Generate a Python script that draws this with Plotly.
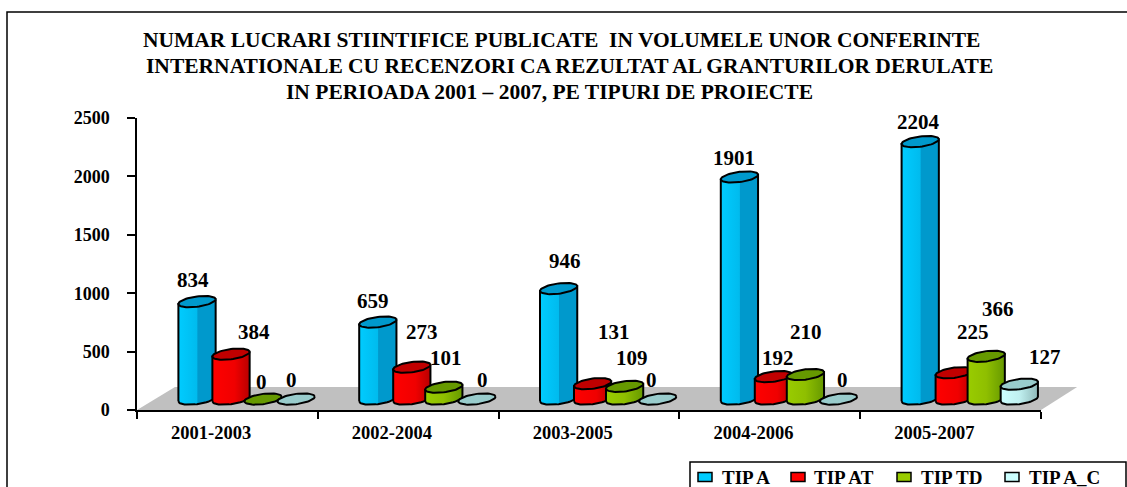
import numpy as np
import plotly.graph_objects as go

CATEGORIES = ["2001-2003", "2002-2004", "2003-2005", "2004-2006", "2005-2007"]
TIP_A = [834, 659, 946, 1901, 2204]
TIP_AT = [384, 273, 131, 192, 225]
TIP_TD = [0, 101, 109, 210, 366]
TIP_AC = [0, 0, 0, 0, 127]
SERIES_NAMES = ["TIP A", "TIP AT", "TIP TD", "TIP A_C"]
SERIES = [TIP_A, TIP_AT, TIP_TD, TIP_AC]
Y_TICKS = [0, 500, 1000, 1500, 2000, 2500]

TITLE_LINES = ["NUMAR LUCRARI STIINTIFICE PUBLICATE  IN VOLUMELE UNOR CONFERINTE",
               "INTERNATIONALE CU RECENZORI CA REZULTAT AL GRANTURILOR DERULATE",
               "IN PERIOADA 2001 \u2013 2007, PE TIPURI DE PROIECTE"]

# styling / 3D projection
W, H = 1127, 487
L, R, T, B = 137, 1041, 118, 410
FONT = "Liberation Serif"
SLOTS = [0.332, 0.52, 0.697, 0.88]
RX, RY, TILT = 0.103, 44, 0.45
FLOOR_BASE = 94
FLOOR_DEPTH = 197
SIDE = [
    [[0, "#00ccff"], [0.5, "#00bbee"], [0.52, "#0099cc"], [1, "#0099cc"]],
    [[0, "#ff0000"], [0.6, "#f00000"], [1, "#b80000"]],
    [[0, "#99cc00"], [0.5, "#8fbf00"], [1, "#669900"]],
    [[0, "#ccffff"], [0.5, "#c0f0f0"], [1, "#8fb8b8"]],
]
TOP = ["#0099cc", "#c00000", "#669900", "#99cccc"]
LEGEND = ["#00ccff", "#ff0000", "#99cc00", "#ccffff"]
LABEL_SHIFT = [
    [(-4, 22), (23, 22), (-2, 17), (-5, 19)],
    [(-5, 21), (10, 35), (2, 29), (6, 19)],
    [(6, 28), (21, 52), (7, 28), (-6, 19)],
    [(-5, 19), (5, 19), (1, 42), (4, 19)],
    [(-2, 20), (19, 41), (12, 47), (26, 27)],
]
TITLE_POS = [(561, 40), (569, 66), (549, 92)]
LEGEND_BOX = (690, 462, 1126, 500)
LEGEND_SWATCH_X = [698, 791, 897, 1005]
LEGEND_TEXT_X = [720, 812, 919, 1027]
LEGEND_Y = 477


def px(x):
    return (x - L) / (R - L)


def py(y):
    return (B - y) / (B - T)


t = np.linspace(0, 2 * np.pi, 61)
fig = go.Figure()

for i in range(len(CATEGORIES)):
    for s, vals in enumerate(SERIES):
        v = vals[i]
        cx = i + SLOTS[s]
        y0 = FLOOR_BASE
        y1 = FLOOR_BASE + v
        if v > 0:
            a = np.linspace(np.pi, 2 * np.pi, 31)
            ex = cx + RX * np.cos(a)
            ey = RY * np.sin(a) + RY * TILT * np.cos(a)
            top_edge = RY * TILT * np.cos(a[::-1])
            bx = np.concatenate([ex, ex[::-1], ex[:1]])
            by = np.concatenate([y0 + ey, y1 + top_edge, y0 + ey[:1]])
            fig.add_trace(go.Scatter(
                x=bx, y=by, mode="lines", fill="toself",
                fillgradient=dict(type="horizontal", colorscale=SIDE[s]),
                line=dict(color="black", width=2),
                hoverinfo="skip", showlegend=False, cliponaxis=False))
        fig.add_trace(go.Scatter(
            x=cx + RX * np.cos(t),
            y=y1 + RY * np.sin(t) + RY * TILT * np.cos(t),
            mode="lines", fill="toself", fillcolor=TOP[s],
            line=dict(color="black", width=2),
            hoverinfo="skip", showlegend=False, cliponaxis=False))

ann = []
for i in range(len(CATEGORIES)):
    for s, vals in enumerate(SERIES):
        dx, dy = LABEL_SHIFT[i][s]
        ann.append(dict(x=i + SLOTS[s], y=FLOOR_BASE + vals[i], text=str(vals[i]),
                        showarrow=False, xshift=dx, yshift=dy,
                        font=dict(family=FONT, size=21, color="black", weight="bold")))
for line, (tx, ty) in zip(TITLE_LINES, TITLE_POS):
    ann.append(dict(xref="paper", yref="paper", x=px(tx), y=py(ty), yanchor="middle",
                    xanchor="center", text=line, showarrow=False,
                    font=dict(family=FONT, size=21.5, color="black", weight="bold")))

shapes = [
    # outer frame (right and bottom run off the page)
    dict(type="rect", xref="paper", yref="paper", x0=px(7), x1=px(1140), y0=py(560), y1=py(12),
         line=dict(color="black", width=1.5), layer="below"),
    # floor of the 3D scene
    dict(type="path", xref="paper", yref="paper", layer="below", line=dict(width=0),
         fillcolor="#c0c0c0",
         path=f"M 0 0 L {0.21 / 5} {FLOOR_DEPTH / 2500} L {5.2 / 5} {FLOOR_DEPTH / 2500} L 1 0 Z"),
    # legend box
    dict(type="rect", xref="paper", yref="paper", x0=px(LEGEND_BOX[0]), x1=px(LEGEND_BOX[2]),
         y0=py(LEGEND_BOX[3]), y1=py(LEGEND_BOX[1]),
         line=dict(color="black", width=1.5), fillcolor="white"),
]
for name, col, sx, tx in zip(SERIES_NAMES, LEGEND, LEGEND_SWATCH_X, LEGEND_TEXT_X):
    shapes.append(dict(type="rect", xref="paper", yref="paper",
                       x0=px(sx), x1=px(sx + 14), y0=py(LEGEND_Y + 4.5), y1=py(LEGEND_Y - 4.5),
                       line=dict(color="black", width=1.5), fillcolor=col))
    ann.append(dict(xref="paper", yref="paper", x=px(tx), y=py(LEGEND_Y), xanchor="left",
                    yanchor="middle", text=name, showarrow=False,
                    font=dict(family=FONT, size=19, color="black", weight="bold")))

XFONT = dict(family=FONT, size=18.5, color="black", weight="bold")
YFONT = dict(family=FONT, size=18, color="black", weight="bold")
fig.update_layout(
    width=W, height=H, paper_bgcolor="white", plot_bgcolor="rgba(0,0,0,0)",
    margin=dict(l=L, r=W - R, t=T, b=H - B, autoexpand=False),
    font=dict(family=FONT, color="black"),
    showlegend=False,
    annotations=ann,
    shapes=shapes,
    xaxis=dict(range=[0, 5], tickmode="array", tickvals=[i + 0.41 for i in range(5)],
               ticktext=CATEGORIES, ticks="", showgrid=False, zeroline=False,
               showline=True, linecolor="black", linewidth=1.5,
               tickfont=XFONT, ticklabelstandoff=5,
               minor=dict(tickmode="array", tickvals=list(range(6)), ticks="outside",
                          ticklen=7, tickcolor="black", tickwidth=1.5, showgrid=False)),
    yaxis=dict(range=[0, 2500], tickmode="array", tickvals=Y_TICKS, ticks="outside",
               ticklen=8, tickcolor="black", tickwidth=1.5, showgrid=False, zeroline=False,
               showline=True, linecolor="black", linewidth=1.5,
               tickfont=YFONT, ticklabelstandoff=14),
)
fig.write_html("out.html", config={"displayModeBar": False},
               post_script="document.body.style.margin='0';document.documentElement.style.overflow='hidden';")
